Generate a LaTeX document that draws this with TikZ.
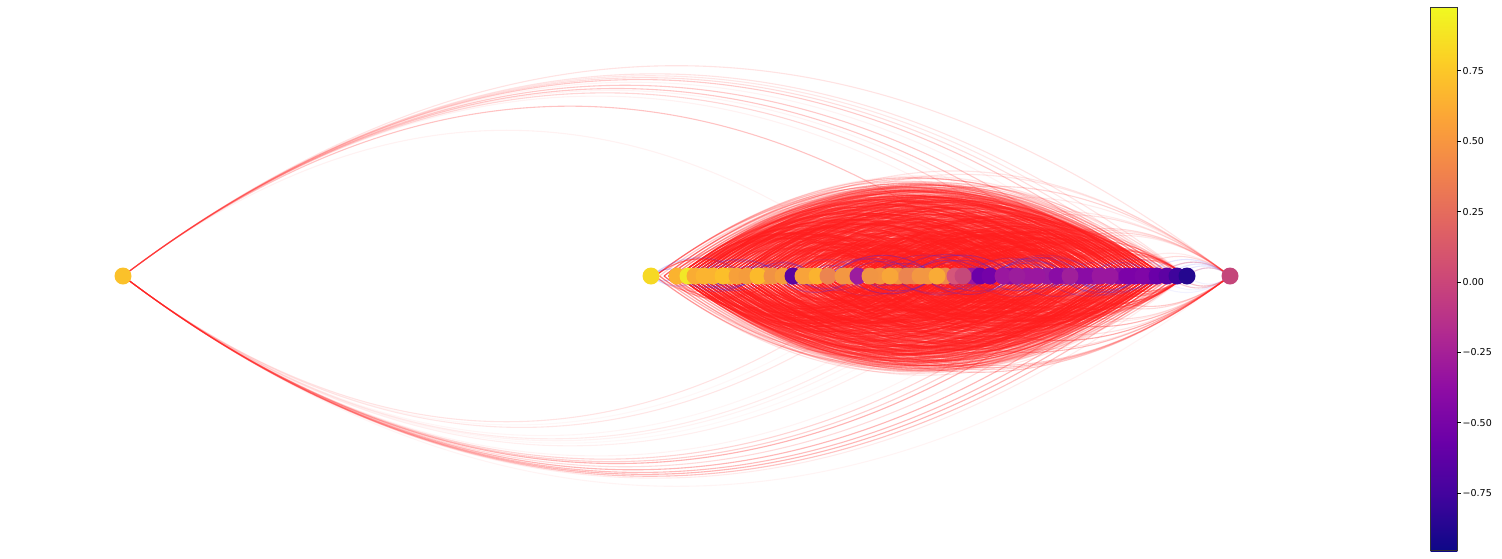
\documentclass[tikz,border=0pt]{standalone}
\usepackage{fontspec}
\setmainfont{DejaVu Sans}
\pgfdeclarelayer{bg}
\pgfsetlayers{bg,main}
\definecolor{edgered}{RGB}{255,28,28}
\definecolor{edgeblue}{RGB}{40,40,255}
\definecolor{p0}{HTML}{0D0887}
\definecolor{p1}{HTML}{41049D}
\definecolor{p2}{HTML}{6A00A8}
\definecolor{p3}{HTML}{8F0DA4}
\definecolor{p4}{HTML}{B12A90}
\definecolor{p5}{HTML}{CC4778}
\definecolor{p6}{HTML}{E16462}
\definecolor{p7}{HTML}{F2844B}
\definecolor{p8}{HTML}{FCA636}
\definecolor{p9}{HTML}{FCCE25}
\definecolor{p10}{HTML}{F0F921}
\tikzset{
  dot/.style={circle, inner sep=0pt, minimum size=17pt, draw=none},
  redge/.style={draw=edgered, line width=1.1pt},
  bedge/.style={draw=edgeblue, line width=1.1pt},
  ticklab/.style={anchor=west, inner sep=0pt, font=\fontsize{9.5}{11}\selectfont},
  cbtick/.style={line width=0.8pt, draw=black}
}
\def\XL{{123,651,677,688,695,704,723,737,747,758,772,783,793,803,817,828,843,858,870,890,907,920,937,963,980,990,1003,1017,1037,1057,1070,1087,1100,1110,1127,1143,1157,1167,1177,1187,1230}}
\newcommand\myarc[4]{% from, to, sign, style  (named graph nodes)
  \pgfmathsetmacro\dd{\XL[#2]-\XL[#1]}%
  \draw[#4] (n#1.center) .. controls +(\dd/3,#3*0.2533*\dd) and +(-\dd/3,#3*0.2533*\dd) .. (n#2.center);%
}
\newcommand\varc[4]{% from, to, sign, style  (named positions on the node row)
  \pgfmathsetmacro\dd{4.5*(#2-#1)}%
  \draw[#4] (v#1) .. controls +(\dd/3,#3*0.2533*\dd) and +(-\dd/3,#3*0.2533*\dd) .. (v#2);%
}
\begin{document}
\begin{tikzpicture}[x=1pt,y=-1pt]
\useasboundingbox (0,0) rectangle (1502,558);
\pgfmathsetseed{4242}
% ---------- hidden (overlapped) graph nodes filling the row ----------
\foreach \x/\c [count=\i] in {713/FBB430,730/F9AC33,765/F59C3C,810/F8A33A,850/F39742,880/F39742,898/F19543,914/EC8450,928/F39742,945/EE8A4A,955/D5567A,972/9A179F,1010/8A0CA5,1027/9A179F,1047/951AA0,1064/9A179F,1079/8A0CA5,1094/9A179F,1119/8A0CA5,1135/7C02A8,1150/7402A8}{
  \definecolor{tmpc}{HTML}{\c}
  \node[dot, fill=tmpc] (h\i) at (\x,276) {};
}
% ---------- graph nodes ----------
\foreach \x/\c [count=\i from 0] in {123/FBC12A,651/F6D924,677/FBB32F,688/F2E827,695/F9AC33,704/FBB430,723/FCBF2A,737/F7A03A,747/F59C3C,758/FCBA2B,772/F19343,783/F69E3B,793/5A04A0,803/F8A33A,817/FBB32F,828/EC8450,843/F39742,858/9C1C9E,870/F19543,890/F8A638,907/EC8450,920/F39742,937/F9AB36,963/C5487A,980/6C00A8,990/7402A8,1003/9A179F,1017/9C1D9C,1037/9A179F,1057/8A0CA5,1070/A01F9A,1087/8A0CA5,1100/9A179F,1110/9A179F,1127/7C02A8,1143/8006A7,1157/6A00A8,1167/5D02A3,1177/3F049C,1187/24078F,1230/C4467A}{
  \definecolor{tmpc}{HTML}{\c}
  \node[dot, fill=tmpc] (n\i) at (\x,276) {};
}
% positions along the row
\foreach \k in {0,...,119}{
  \coordinate (v\k) at (655+4.5*\k,276);
}
% ---------- edges ----------
\begin{pgfonlayer}{bg}
% red edges inside the cluster (between the left and the right group)
\foreach \e in {1,...,1000}{
  \pgfmathrandominteger{\ia}{5}{70}
  \pgfmathrandominteger{\ib}{50}{113}
  \pgfmathtruncatemacro\ok{\ib-\ia>4}
  \ifnum\ok=1
    \pgfmathsetmacro\oo{0.1+0.3*rnd}
    \varc{\ia}{\ib}{-1}{redge,draw opacity=\oo}
  \fi
  \pgfmathrandominteger{\ia}{5}{70}
  \pgfmathrandominteger{\ib}{50}{113}
  \pgfmathtruncatemacro\ok{\ib-\ia>4}
  \ifnum\ok=1
    \pgfmathsetmacro\oo{0.1+0.3*rnd}
    \varc{\ia}{\ib}{1}{redge,draw opacity=\oo}
  \fi
}
% longer, fainter edges from the ends of the row
\foreach \e in {1,...,120}{
  \pgfmathrandominteger{\ia}{0}{12}
  \pgfmathrandominteger{\ib}{95}{118}
  \pgfmathsetmacro\sg{rnd<0.5?-1:1}
  \pgfmathsetmacro\oo{0.05+0.2*rnd}
  \varc{\ia}{\ib}{\sg}{redge,draw opacity=\oo}
}
% red edges among all of the row
\foreach \e in {1,...,220}{
  \pgfmathrandominteger{\ia}{0}{100}
  \pgfmathrandominteger{\dk}{6}{60}
  \pgfmathtruncatemacro\ib{min(\ia+\dk,118)}
  \pgfmathsetmacro\sg{rnd<0.5?-1:1}
  \pgfmathsetmacro\oo{0.1+0.3*rnd}
  \varc{\ia}{\ib}{\sg}{redge,draw opacity=\oo}
}
% blue short edges
\foreach \i in {1,...,32}{
  \pgfmathtruncatemacro\jst{\i+1}
  \pgfmathtruncatemacro\jen{min(\i+7,39)}
  \foreach \j in {\jst,...,\jen}{
    \pgfmathsetmacro\rr{rnd}
    \pgfmathsetmacro\dx{\XL[\j]-\XL[\i]}
    \pgfmathtruncatemacro\ok{(\rr<0.6)&&(\dx<120)}
    \ifnum\ok=1
      \pgfmathsetmacro\sg{rnd<0.5?-1:1}
      \pgfmathsetmacro\oo{0.12+0.2*rnd}
      \myarc{\i}{\j}{\sg}{bedge,draw opacity=\oo}
    \fi
  }
}
\foreach \i in {35,...,39}{
  \myarc{\i}{40}{-1}{bedge,draw opacity=0.12}
  \myarc{\i}{40}{1}{bedge,draw opacity=0.06}
}
% edges of the left node
\myarc{0}{19}{-1}{redge,draw opacity=0.06}
\foreach \j in {27,...,40}{
  \pgfmathsetmacro\rr{rnd}
  \ifdim\rr pt<0.85pt
    \pgfmathsetmacro\oo{0.05+0.22*rnd}
    \myarc{0}{\j}{-1}{redge,draw opacity=\oo}
  \fi
}
\foreach \j in {19,...,40}{
  \pgfmathsetmacro\rr{rnd}
  \ifdim\rr pt<0.8pt
    \pgfmathsetmacro\oo{0.03+0.1*rnd}
    \myarc{0}{\j}{1}{redge,draw opacity=\oo}
  \fi
}
\foreach \j in {31,...,39}{
  \pgfmathsetmacro\oo{0.08+0.2*rnd}
  \myarc{0}{\j}{1}{redge,draw opacity=\oo}
}
% edges of the right node
\foreach \i in {1,...,39}{
  \pgfmathsetmacro\rr{rnd}
  \ifdim\rr pt<0.5pt
    \pgfmathsetmacro\oo{0.08+0.3*rnd}
    \myarc{\i}{40}{1}{redge,draw opacity=\oo}
  \fi
  \pgfmathsetmacro\rr{rnd}
  \ifdim\rr pt<0.25pt
    \pgfmathsetmacro\oo{0.04+0.2*rnd}
    \myarc{\i}{40}{-1}{redge,draw opacity=\oo}
  \fi
}
\end{pgfonlayer}
% ---------- colour bar ----------
\foreach \k in {0,...,9}{
  \pgfmathtruncatemacro\kn{\k+1}
  \pgfmathsetmacro\yb{550.7-\k*54.34+0.3}
  \pgfmathsetmacro\yt{550.7-(\k+1)*54.34-0.3}
  \shade[bottom color=p\k, top color=p\kn] (1430.7,\yb) rectangle (1457.3,\yt);
}
\node[draw=black!80, line width=0.8pt, inner sep=0pt, minimum width=26.6pt, minimum height=543.4pt] (cbar) at (1444,279) {};
\foreach \v/\lab [count=\t] in {0.75/0.75,0.5/0.50,0.25/0.25,0/0.00,-0.25/−0.25,-0.5/−0.50,-0.75/−0.75}{
  \pgfmathsetmacro\yy{282-281.6*\v}
  \coordinate (tk\t) at (1457.3,\yy);
  \coordinate (te\t) at (1461,\yy);
  \draw[cbtick] (tk\t) -- (te\t);
  \node[ticklab] (tl\t) at (1462.5,\yy) {\lab};
}
\end{tikzpicture}
\end{document}
